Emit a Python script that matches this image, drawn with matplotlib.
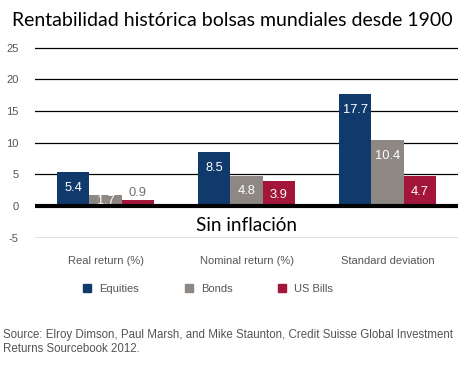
import numpy as np
import matplotlib
matplotlib.use("Agg")
import matplotlib.pyplot as plt
from matplotlib.patches import Rectangle

# Data
categories = ["Real return (%)", "Nominal return (%)", "Standard deviation"]
equities = [5.4, 8.5, 17.7]
bonds = [1.7, 4.8, 10.4]
us_bills = [0.9, 3.9, 4.7]
series_names = ["Equities", "Bonds", "US Bills"]
series_colors = ["#0f3a6b", "#8e8884", "#a3163a"]
y_ticks = [-5, 0, 5, 10, 15, 20, 25]

title = "Rentabilidad histórica bolsas mundiales desde 1900"
subtitle = "Sin inflación"
source = ("Source: Elroy Dimson, Paul Marsh, and Mike Staunton, Credit Suisse Global Investment\n"
          "Returns Sourcebook 2012.")

tick_gray = "#555555"

fig = plt.figure(figsize=(4.70, 3.69), dpi=100)
ax = fig.add_axes([35 / 470, 1 - 238 / 369, 423 / 470, 192 / 369])

x = np.arange(len(categories))
width = 0.227
offsets = [-width, 0, width]

# Grid lines first so bars sit on top
for t in y_ticks:
    lw = 3.0 if t == 0 else 0.9
    ax.axhline(t, color="black", lw=lw, zorder=1 if t != 0 else 3)

for vals, off, col in zip([equities, bonds, us_bills], offsets, series_colors):
    ax.bar(x + off, vals, width=width, color=col, zorder=2)
    for xi, v in zip(x + off, vals):
        if v < 1.5:
            ax.text(xi, v + 1.1, f"{v}", ha="center", va="center",
                    color="#707070", fontsize=9.3, family="Liberation Sans", zorder=4)
        else:
            ax.text(xi, max(v - 2.5, v * 0.45), f"{v}", ha="center", va="center",
                    color="white", fontsize=9.3, family="Liberation Sans", zorder=2.5)

ax.set_xlim(-0.5, 2.5)
ax.set_ylim(-5.05, 25.25)
ax.set_yticks(y_ticks)
ax.set_yticklabels([str(t) for t in y_ticks], color=tick_gray, fontsize=8,
                   family="Liberation Sans")
ax.set_xticks(x)
ax.set_xticklabels(categories, color=tick_gray, fontsize=8, family="Liberation Sans")
ax.tick_params(axis="both", length=0)
ax.tick_params(axis="x", pad=13)
ax.tick_params(axis="y", pad=12)
for s in ax.spines.values():
    s.set_visible(False)

ax.text(1, -3.15, subtitle, ha="center", va="center", fontsize=13.7,
        family="Lato", color="black", zorder=5)

fig.text(12 / 470, 1 - 21 / 369, title, ha="left", va="center",
         fontsize=14, family="Lato", color="black")

# Legend
handles = [Rectangle((0, 0), 1, 1, color=c) for c in series_colors]
leg = fig.legend(handles, series_names, loc="center", ncol=3,
                 bbox_to_anchor=(208 / 470, 1 - 289 / 369), frameon=False,
                 handlelength=0.75, handleheight=0.75, handletextpad=0.7,
                 columnspacing=4.1, prop={"family": "Liberation Sans", "size": 8})
for t in leg.get_texts():
    t.set_color(tick_gray)

fig.text(3 / 470, 1 - 342 / 369, source, ha="left", va="center",
         fontsize=8.3, family="Liberation Sans", color=tick_gray, linespacing=1.2)

fig.savefig("out.png", dpi=100)
